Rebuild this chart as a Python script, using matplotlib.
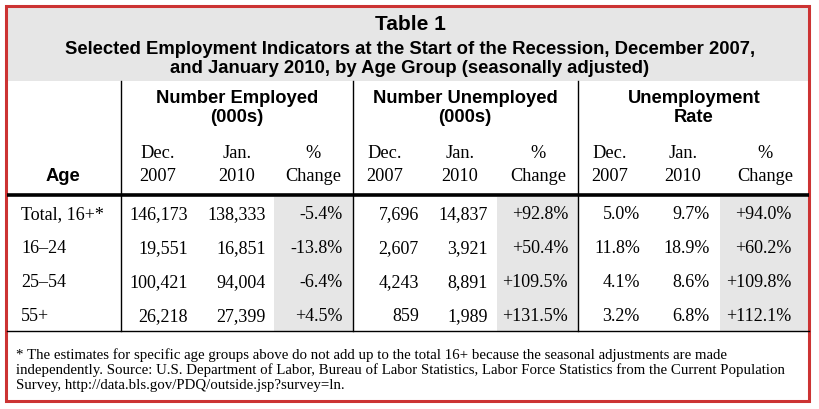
import matplotlib
matplotlib.use("Agg")
import matplotlib.pyplot as plt
from matplotlib.patches import Rectangle

# table data
title = "Table 1"
subtitle = ("Selected Employment Indicators at the Start of the Recession, December 2007,\n"
            "and January 2010, by Age Group (seasonally adjusted)")
groups = ["Number Employed\n(000s)", "Number Unemployed\n(000s)", "Unemployment\nRate"]
sub_cols = ["Dec.\n2007", "Jan.\n2010", "%\nChange"]
ages = ["Total, 16+*", "16\u201324", "25\u201354", "55+"]

employed_dec07 = [146173, 19551, 100421, 26218]
employed_jan10 = [138333, 16851, 94004, 27399]
employed_chg = [-5.4, -13.8, -6.4, 4.5]
unemployed_dec07 = [7696, 2607, 4243, 859]
unemployed_jan10 = [14837, 3921, 8891, 1989]
unemployed_chg = [92.8, 50.4, 109.5, 131.5]
rate_dec07 = [5.0, 11.8, 4.1, 3.2]
rate_jan10 = [9.7, 18.9, 8.6, 6.8]
rate_chg = [94.0, 60.2, 109.8, 112.1]

footnote = ("* The estimates for specific age groups above do not add up to the total 16+ because the seasonal adjustments are made\n"
            "independently. Source: U.S. Department of Labor, Bureau of Labor Statistics, Labor Force Statistics from the Current Population\n"
            "Survey, http://data.bls.gov/PDQ/outside.jsp?survey=ln.")

SANS = "Liberation Sans"
SERIF = "Liberation Serif"
RED = "#cc3333"
GREY = "#e6e6e6"


def num(v):
    return f"{v:,}"


def pct(v):
    return f"{v:.1f}%"


def chg(v):
    return f"{v:+.1f}%"


columns = [
    [num(v) for v in employed_dec07],
    [num(v) for v in employed_jan10],
    [chg(v) for v in employed_chg],
    [num(v) for v in unemployed_dec07],
    [num(v) for v in unemployed_jan10],
    [chg(v) for v in unemployed_chg],
    [pct(v) for v in rate_dec07],
    [pct(v) for v in rate_jan10],
    [chg(v) for v in rate_chg],
]

# layout (pixels)
col_right = [188, 266, 343, 419, 488, 568, 640, 710, 791]
col_head = [158, 237, 313, 385, 460, 538, 610, 683, 765]
group_x = [237, 465, 694]
vlines = [121, 353, 578]
shade = [(274, 353), (497, 578), (720, 809)]
row_y = [215, 249, 283, 317]

fig = plt.figure(figsize=(8.2, 4.1), dpi=100)
ax = fig.add_axes([0, 0, 1, 1])
ax.set_xlim(0, 820)
ax.set_ylim(410, 0)
ax.axis("off")

# title band
ax.add_patch(Rectangle((7, 7), 802, 75, color=GREY, lw=0))
ax.text(410, 25, title, ha="center", va="center", family=SANS, weight="bold", fontsize=15)
ax.text(410, 59, subtitle, ha="center", va="center", family=SANS, weight="bold",
        fontsize=13.3, linespacing=1.12)

# shaded % change columns
for x0, x1 in shade:
    ax.add_patch(Rectangle((x0, 198), x1 - x0, 134, color=GREY, lw=0))

# rules
for x in vlines:
    ax.plot([x, x], [82, 332], color="black", lw=1)
ax.plot([7, 809], [196, 196], color="black", lw=2.6, solid_capstyle="butt")
ax.plot([7, 809], [332, 332], color="black", lw=1)

# headers
for gx, g in zip(group_x, groups):
    ax.text(gx, 108, g, ha="center", va="center", family=SANS, weight="bold",
            fontsize=13.2, linespacing=1.13)
for i, cx in enumerate(col_head):
    ax.text(cx, 165, sub_cols[i % 3], ha="center", va="center", family=SERIF,
            fontsize=13.2, linespacing=1.45)
ax.text(63, 177, "Age", ha="center", va="center", family=SANS, weight="bold", fontsize=13.2)

# body
for r, y in enumerate(row_y):
    ax.text(21, y, ages[r], ha="left", va="center", family=SERIF, fontsize=13)
    for c, xr in enumerate(col_right):
        ax.text(xr, y, columns[c][r], ha="right", va="center", family=SERIF, fontsize=13)

ax.text(16, 370, footnote, ha="left", va="center", family=SERIF, fontsize=10.7,
        linespacing=1.17)

# red frame
ax.add_patch(Rectangle((6.5, 6.5), 803, 395, fill=False, edgecolor=RED, lw=2.2))

fig.savefig("out.png", dpi=100)
